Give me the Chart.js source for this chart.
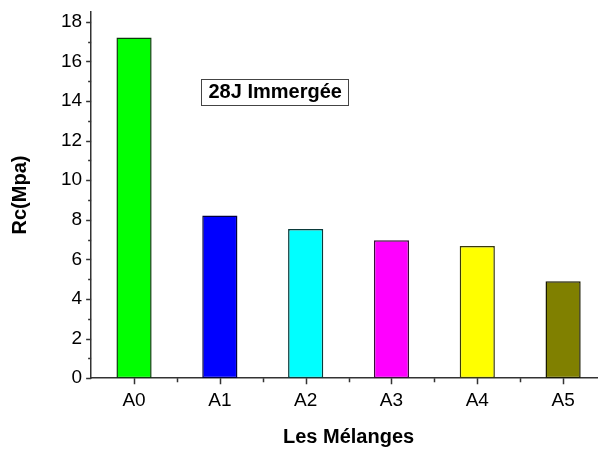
<!DOCTYPE html>
<html>
<head>
<meta charset="utf-8">
<script src="https://cdn.jsdelivr.net/npm/chart.js@4.4.0/dist/chart.umd.min.js"></script>
<style>
  html, body { margin: 0; padding: 0; background: #fff; overflow: hidden; }
</style>
</head>
<body>
<canvas id="rcChart" width="606" height="450"></canvas>
<script>
/* DATA */
const categories = ["A0", "A1", "A2", "A3", "A4", "A5"];
const rcValues   = [17.2, 8.22, 7.53, 6.96, 6.67, 4.89];
const barColors  = ["#00ff00", "#0000ff", "#00ffff", "#ff00ff", "#ffff00", "#808000"];
const barEdges   = ["#0b3a0b", "#000040", "#0b3a3a", "#3a0b3a", "#3a3a0b", "#1a1a00"];
const yMajor     = [0, 2, 4, 6, 8, 10, 12, 14, 16, 18];
const noteText   = "28J Immergée";

const FONT = "'Liberation Sans', Arial, sans-serif";
const AXIS = "#333333";

/* TICKS + NOTE (drawn from the chart's own scales) */
const extras = {
  id: "extras",
  afterDraw(chart) {
    const { ctx, scales: { x, y } } = chart;
    ctx.save();
    ctx.strokeStyle = AXIS;
    ctx.lineWidth = 1.5;
    ctx.beginPath();
    // y ticks: majors on even values, minors between
    for (let v = 0; v <= yMajor[yMajor.length - 1]; v++) {
      const py = Math.round(y.getPixelForValue(v)) + 0.5;
      const len = yMajor.includes(v) ? 5 : 3;
      ctx.moveTo(x.left - len, py);
      ctx.lineTo(x.left, py);
    }
    // x ticks: majors at categories, minors between
    categories.forEach((c, i) => {
      const px = Math.round(x.getPixelForValue(i)) + 0.5;
      ctx.moveTo(px, y.bottom);
      ctx.lineTo(px, y.bottom + 6);
      const mx = Math.round(x.getPixelForValue(i + 0.5)) + 0.5;
      ctx.moveTo(mx, y.bottom);
      ctx.lineTo(mx, y.bottom + 4);
    });
    ctx.stroke();

    // text note
    const nx = x.getPixelForValue(1.645);
    const ny = y.getPixelForValue(14.47);
    ctx.font = "bold 20px " + FONT;
    ctx.textAlign = "center";
    ctx.textBaseline = "middle";
    const w = ctx.measureText(noteText).width + 14;
    ctx.fillStyle = "#000";
    ctx.fillText(noteText, nx, ny + 1);
    ctx.lineWidth = 1;
    ctx.strokeStyle = "#444";
    ctx.strokeRect(Math.round(nx - w / 2) + 0.5, Math.round(ny - 13) + 0.5, Math.round(w), 26);
    ctx.restore();
  }
};

const ctx = document.getElementById("rcChart").getContext("2d");
new Chart(ctx, {
  type: "bar",
  data: {
    labels: categories,
    datasets: [{
      data: rcValues,
      backgroundColor: barColors,
      borderColor: barEdges,
      borderWidth: 1.5,
      borderSkipped: false,
      barPercentage: 0.41,
      categoryPercentage: 1
    }]
  },
  options: {
    responsive: false,
    animation: false,
    devicePixelRatio: 1,
    layout: { padding: { left: 8, top: 11, right: 0, bottom: 1 } },
    plugins: {
      legend: { display: false },
      tooltip: { enabled: false }
    },
    scales: {
      x: {
        offset: true,
        grid: { display: false, drawTicks: false },
        border: { display: true, color: AXIS, width: 1.5 },
        ticks: { color: "#000", padding: 11, font: { family: FONT, size: 19 } },
        title: {
          display: true,
          text: "Les Mélanges",
          color: "#000",
          font: { family: FONT, size: 20, weight: "bold" },
          padding: { top: 2, bottom: 0 }
        }
      },
      y: {
        min: 0,
        max: 18.5,
        grid: { display: false, drawTicks: false },
        border: { display: true, color: AXIS, width: 1.5 },
        afterBuildTicks: axis => { axis.ticks = yMajor.map(v => ({ value: v })); },
        ticks: {
          color: "#000",
          padding: 9,
          font: { family: FONT, size: 19, lineHeight: 0.3 }
        },
        title: {
          display: true,
          text: "Rc(Mpa)",
          color: "#000",
          font: { family: FONT, size: 20, weight: "bold" },
          padding: { top: 0, bottom: 20 }
        }
      }
    }
  },
  plugins: [extras]
});
</script>
</body>
</html>
